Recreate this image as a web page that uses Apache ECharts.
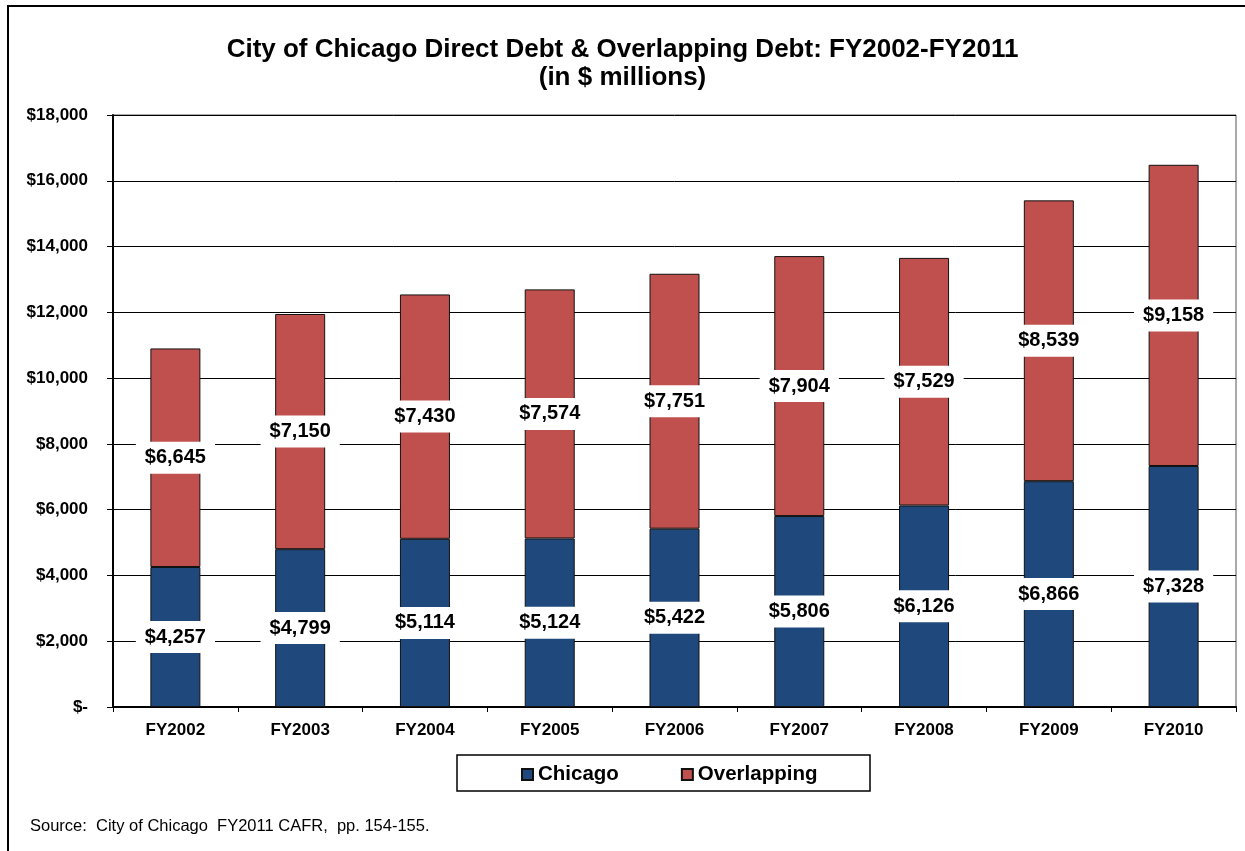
<!DOCTYPE html>
<html>
<head>
<meta charset="utf-8">
<script src="https://cdn.jsdelivr.net/npm/echarts@6/dist/echarts.min.js"></script>
<style>
html,body{margin:0;padding:0;background:#fff;}
#chart{width:1245px;height:851px;}
</style>
</head>
<body>
<div id="chart"></div>
<script>
const categories = ['FY2002','FY2003','FY2004','FY2005','FY2006','FY2007','FY2008','FY2009','FY2010'];
const chicago = [4257, 4799, 5114, 5124, 5422, 5806, 6126, 6866, 7328];
const overlapping = [6645, 7150, 7430, 7574, 7751, 7904, 7529, 8539, 9158];
const seriesNames = ['Chicago', 'Overlapping'];
const titleText = 'City of Chicago Direct Debt & Overlapping Debt: FY2002-FY2011\n(in $ millions)';
const sourceText = 'Source:  City of Chicago  FY2011 CAFR,  pp. 154-155.';

const FONT = '"Liberation Sans", Arial, sans-serif';
const fmt = v => '$' + Number(v).toLocaleString('en-US');

const labelStyle = {
  show: true,
  position: 'inside',
  formatter: p => fmt(p.value),
  color: '#000',
  fontFamily: FONT,
  fontWeight: 'bold',
  fontSize: 20,
  backgroundColor: '#fff',
  padding: [7, 9, 5, 9]
};

const chart = echarts.init(document.getElementById('chart'), null, {renderer: 'canvas'});
chart.setOption({
  animation: false,
  backgroundColor: '#fff',
  title: {
    text: titleText,
    left: 'center',
    top: 31,
    textStyle: {fontFamily: FONT, fontWeight: 'bold', fontSize: 26, lineHeight: 28, color: '#000'}
  },
  grid: {
    left: 113, right: 9, top: 115, bottom: 144,
    show: true, borderColor: '#555', borderWidth: 1
  },
  legend: {
    data: seriesNames,
    left: 521,
    top: 764,
    padding: 0,
    itemWidth: 11,
    itemHeight: 11,
    itemGap: 62,
    icon: 'rect',
    textStyle: {fontFamily: FONT, fontWeight: 'bold', fontSize: 20.5, color: '#000'}
  },
  xAxis: {
    type: 'category',
    data: categories,
    axisLine: {lineStyle: {color: '#000', width: 2}},
    axisTick: {show: true, length: 5, lineStyle: {color: '#000', width: 1}},
    axisLabel: {fontFamily: FONT, fontWeight: 'bold', fontSize: 17, color: '#000', margin: 15}
  },
  yAxis: {
    type: 'value',
    min: 0, max: 18000, interval: 2000,
    axisLine: {show: true, lineStyle: {color: '#000', width: 2}},
    axisTick: {show: true, length: 6, lineStyle: {color: '#000', width: 1}},
    splitLine: {lineStyle: {color: '#000', width: 1}},
    axisLabel: {
      fontFamily: FONT, fontWeight: 'bold', fontSize: 17, color: '#000', margin: 25,
      formatter: v => v === 0 ? '$-' : fmt(v)
    }
  },
  series: [
    {
      name: seriesNames[0],
      type: 'bar',
      stack: 'total',
      data: chicago,
      barWidth: 50,
      itemStyle: {color: '#1F497D', borderColor: '#111', borderWidth: 1},
      label: labelStyle
    },
    {
      name: seriesNames[1],
      type: 'bar',
      stack: 'total',
      data: overlapping,
      barWidth: 50,
      itemStyle: {color: '#C0504D', borderColor: '#111', borderWidth: 1},
      label: labelStyle
    }
  ],
  graphic: [
    {
      type: 'rect',
      shape: {x: 8, y: 6, width: 1400, height: 1000},
      style: {fill: null, stroke: '#000', lineWidth: 2},
      silent: true, z: 100
    },
    {
      type: 'rect',
      shape: {x: 457, y: 755, width: 413, height: 36},
      style: {fill: null, stroke: '#000', lineWidth: 1.5},
      silent: true, z: 100
    },
    {
      type: 'text',
      x: 30, y: 826,
      style: {text: sourceText, fill: '#000', font: '16.5px "Liberation Sans", Arial, sans-serif', textVerticalAlign: 'middle'},
      silent: true, z: 100
    }
  ]
});
</script>
</body>
</html>
